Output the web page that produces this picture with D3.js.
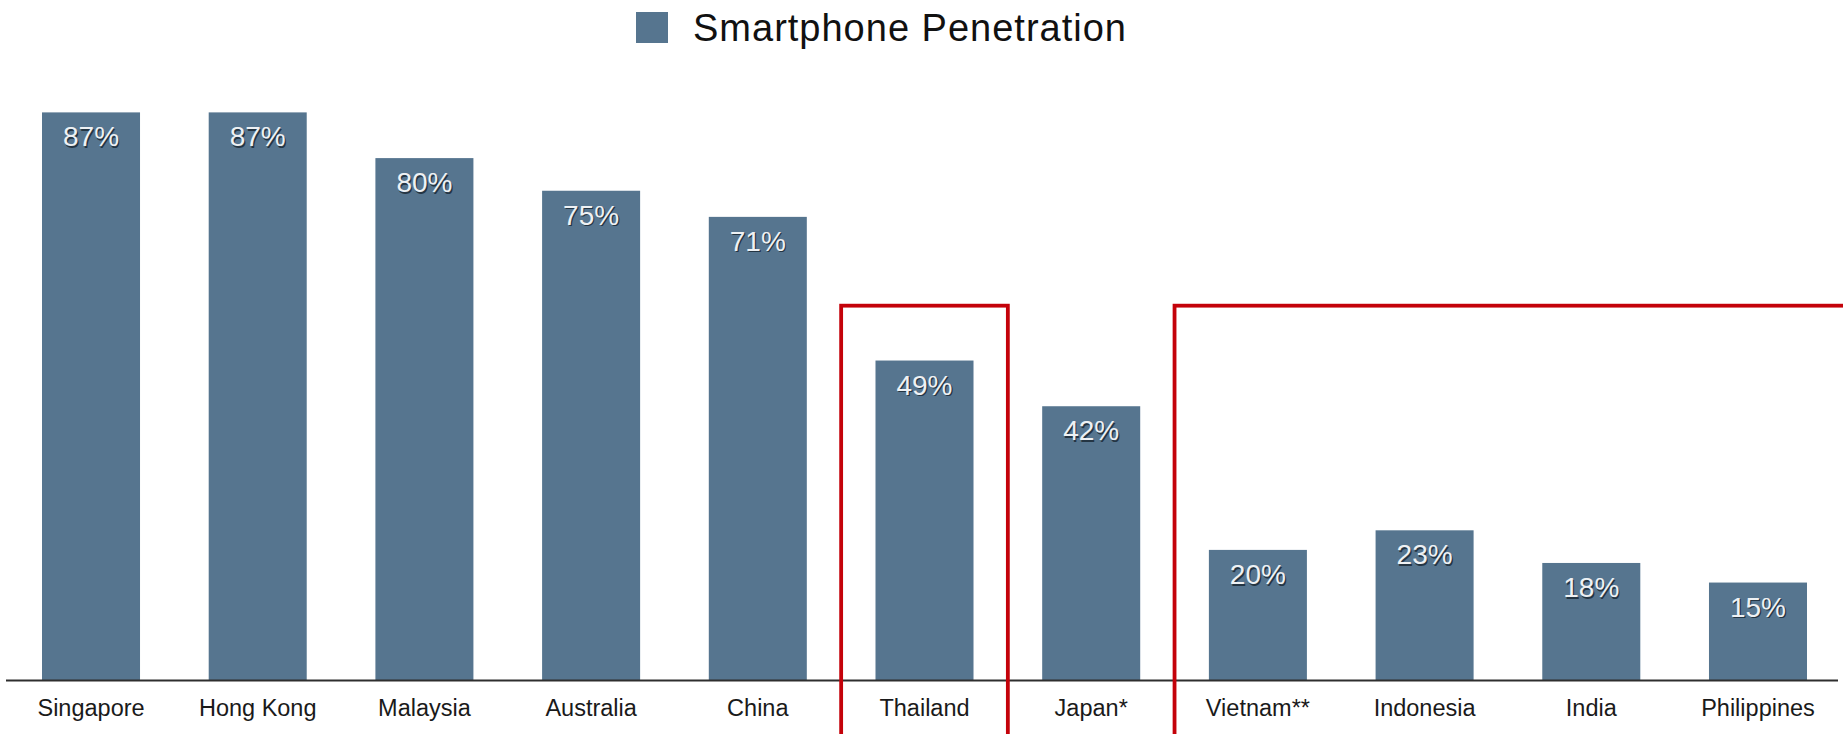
<!DOCTYPE html>
<html>
<head>
<meta charset="utf-8">
<script src="https://cdn.jsdelivr.net/npm/d3@7"></script>
<style>
  html, body { margin: 0; padding: 0; background: #ffffff; }
  svg { display: block; }
  text { font-family: "Liberation Sans", Arial, Helvetica, sans-serif; }
</style>
</head>
<body>
<div id="chart"></div>
<script>
const categories = ["Singapore", "Hong Kong", "Malaysia", "Australia", "China", "Thailand", "Japan*", "Vietnam**", "Indonesia", "India", "Philippines"];
const penetration = [87, 87, 80, 75, 71, 49, 42, 20, 23, 18, 15];
const seriesName = "Smartphone Penetration";
const highlightGroups = [["Thailand"], ["Vietnam**", "Indonesia", "India", "Philippines"]];
const highlightTop = 57.4;

const W = 1843, H = 734;
const barColor = "#56758f";

const svg = d3.select("#chart").append("svg")
  .attr("width", W).attr("height", H);

const x = d3.scaleBand()
  .domain(categories)
  .range([0, 1849])
  .paddingInner(0.412)
  .paddingOuter(0.252);

const y = d3.scaleLinear()
  .domain([0, 100])
  .range([680.5, 680.5 - 653]);

// Legend
const legend = svg.append("g");
legend.append("rect")
  .attr("x", 636).attr("y", 12).attr("width", 32).attr("height", 31)
  .attr("fill", barColor);
legend.append("text")
  .attr("x", 693).attr("y", 41)
  .attr("font-size", 38).attr("letter-spacing", 1)
  .attr("fill", "#111")
  .text(seriesName);

const data = categories.map((c, i) => ({ c, v: penetration[i] }));

// Bars
svg.append("g").selectAll("rect")
  .data(data).join("rect")
  .attr("x", d => x(d.c))
  .attr("y", d => y(d.v))
  .attr("width", x.bandwidth())
  .attr("height", d => y(0) - y(d.v))
  .attr("fill", barColor);

// Value labels (with shadow)
const lbl = svg.append("g").attr("font-size", 28).attr("text-anchor", "middle");
lbl.selectAll("text.sh")
  .data(data).join("text")
  .attr("class", "sh")
  .attr("x", d => x(d.c) + x.bandwidth() / 2 + 1.2)
  .attr("y", d => y(d.v) + 34 + 1.6)
  .attr("fill", "#1c2a36")
  .attr("opacity", 0.85)
  .text(d => d.v + "%");
lbl.selectAll("text.fg")
  .data(data).join("text")
  .attr("class", "fg")
  .attr("x", d => x(d.c) + x.bandwidth() / 2)
  .attr("y", d => y(d.v) + 34)
  .attr("fill", "#eef1f4")
  .text(d => d.v + "%");

// X axis
const axis = d3.axisBottom(x).tickSize(0).tickPadding(18.5);
const gx = svg.append("g")
  .attr("transform", `translate(0,${y(0)})`)
  .call(axis);
gx.select(".domain").remove();
gx.selectAll("text")
  .attr("font-size", 23.5)
  .attr("font-family", "\"Liberation Sans\", Arial, Helvetica, sans-serif")
  .attr("fill", "#1a1a1a");
svg.append("line")
  .attr("x1", 6).attr("x2", 1838)
  .attr("y1", y(0)).attr("y2", y(0))
  .attr("stroke", "#2e2e2e").attr("stroke-width", 2.2);

// Highlight boxes
const gap = x.step() - x.bandwidth();
const boxes = svg.append("g");
highlightGroups.forEach(group => {
  const first = group[0], last = group[group.length - 1];
  const left = x(first) - gap / 2;
  let right = x(last) + x.bandwidth() + gap / 2;
  if (last === categories[categories.length - 1]) right = W + 20;
  boxes.append("rect")
    .attr("x", left).attr("y", y(highlightTop))
    .attr("width", right - left).attr("height", H + 40 - y(highlightTop))
    .attr("fill", "none")
    .attr("stroke", "#c4020a").attr("stroke-width", 3.8);
});
</script>
</body>
</html>
